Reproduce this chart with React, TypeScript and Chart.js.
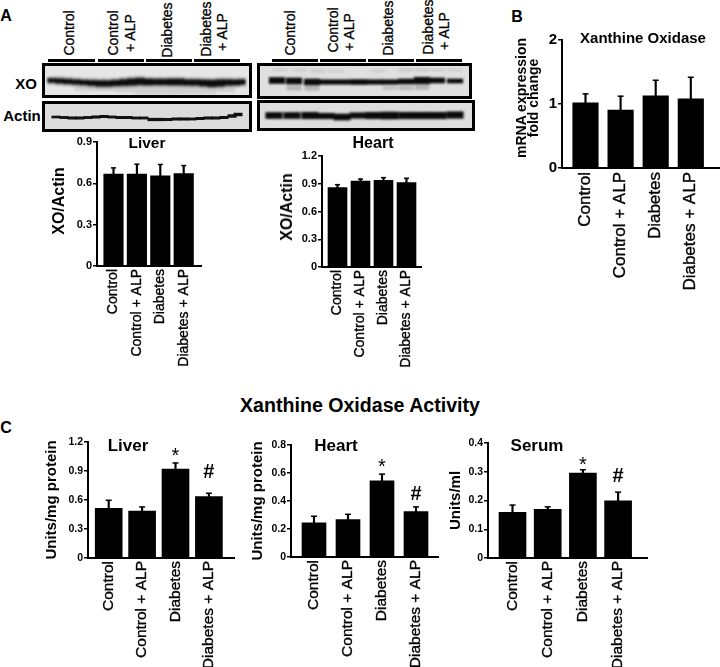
import React, { useEffect, useRef } from "react";
import { Chart, registerables } from "chart.js";

Chart.register(...registerables);

const FONT = '"Liberation Sans", Arial, sans-serif';

// ---- Bar panel data ----
const categories = ["Control", "Control + ALP", "Diabetes", "Diabetes + ALP"];

const liverBlotMeans = [0.667, 0.667, 0.655, 0.671];
const liverBlotTops = [0.712, 0.739, 0.737, 0.729];
const liverBlotTicks = [0, 0.3, 0.6, 0.9];

const heartBlotMeans = [0.858, 0.93, 0.937, 0.912];
const heartBlotTops = [0.89, 0.951, 0.966, 0.959];
const heartBlotTicks = [0, 0.3, 0.6, 0.9, 1.2];

const mrnaMeans = [1.018, 0.904, 1.127, 1.08];
const mrnaTops = [1.158, 1.122, 1.371, 1.418];
const mrnaTicks = [0, 1, 2];

const liverActivityMeans = [0.514, 0.486, 0.92, 0.635];
const liverActivityTops = [0.597, 0.528, 0.983, 0.67];
const liverActivityTicks = [0, 0.3, 0.6, 0.9, 1.2];
const liverActivityMarks = [[2, 1.055, "*"], [3, 0.88, "#"]];

const heartActivityMeans = [0.244, 0.267, 0.544, 0.325];
const heartActivityTops = [0.291, 0.305, 0.592, 0.358];
const heartActivityTicks = [0, 0.2, 0.4, 0.6, 0.8];
const heartActivityMarks = [[2, 0.642, "*"], [3, 0.449, "#"]];

const serumMeans = [0.159, 0.169, 0.295, 0.199];
const serumTops = [0.184, 0.178, 0.307, 0.229];
const serumTicks = [0, 0.1, 0.2, 0.3, 0.4];
const serumMarks = [[2, 0.323, "*"], [3, 0.285, "#"]];

// ---- Blot band data: lane position, band centre, band thickness (gel units) ----
const liverXoLanes = [7, 15, 23, 31, 39, 47, 55, 63, 71, 79, 87, 95, 103, 111, 119, 127, 135, 143, 151, 159, 167, 175, 183, 191, 196];
const liverXoMid = [14.5, 15, 15.5, 16, 16.5, 17, 17.5, 17.5, 17, 16.5, 16, 15.5, 16, 16, 16, 16, 16, 16.5, 16.5, 17, 17.5, 17, 16.5, 16.5, 16];
const liverXoThick = [3.5, 4, 4, 4, 4, 4.5, 5, 5, 5, 5.5, 6, 6, 5.5, 5, 5, 5.5, 5.5, 5, 5, 5.5, 6, 6, 5, 4.5, 4];
const liverXoHalo = [7, 8, 8, 8, 8, 8.5, 9, 9, 9, 9.5, 10, 10, 9.5, 9, 9, 9.5, 9.5, 9, 9, 9.5, 10, 10, 9, 8.5, 8];
const liverXoSmearLanes = [40, 60, 80, 100, 120, 140, 160, 180];
const liverXoSmearMid = [22, 22, 23, 24, 24, 24, 24, 23];
const liverXoSmearThick = [5, 5, 6, 8, 8, 8, 8, 6];

const liverActinLanes = [11, 19, 27, 35, 43, 51, 59, 67, 75, 83, 91, 99, 107, 115, 123, 131, 139, 147, 155, 163, 171, 179, 187, 193];
const liverActinMid = [13, 13.5, 14, 14, 13.5, 13, 12.5, 13, 13.5, 13.5, 14, 14, 15.5, 15.5, 15.5, 15, 15, 15, 14.5, 14, 14, 13.5, 12, 10.5];
const liverActinThick = [2, 2.2, 2.4, 2.4, 2.2, 2.4, 2.4, 2.2, 2.4, 2.4, 2.2, 2.2, 2.6, 2.6, 2.4, 2.4, 2.4, 2.2, 2.4, 2.4, 2.4, 2.4, 2.8, 2.8];

const heartXoLanes = [17, 34, 52, 68, 84, 99, 115, 130, 146, 162, 177, 195];
const heartXoMid = [14.5, 15, 16, 16, 16, 16, 16, 16, 15.5, 14.5, 14.5, 15];
const heartXoThick = [6, 6, 6, 4.5, 4.5, 5, 4.5, 4.5, 5, 6.5, 5, 4];
const heartXoLowerLanes = [34, 52, 130, 146, 162];
const heartXoLowerMid = [22, 22.5, 22, 22, 21];
const heartXoLowerThick = [4, 4, 2, 3, 5];
const heartXoUpperLanes = [20, 40, 58, 76, 118, 146, 162, 178, 195];
const heartXoUpperMid = [4, 4, 5, 5, 5, 4, 4, 4, 4];
const heartXoUpperThick = [2, 2, 3, 2, 2, 3, 3, 2, 2];

const heartActinLanes = [14, 32, 50, 66, 82, 98, 114, 130, 147, 163, 178, 195];
const heartActinMid = [12.5, 12.5, 12.5, 13, 14, 12.5, 12.5, 12.5, 12.5, 12.5, 12.5, 12];
const heartActinThick = [6, 6, 6.5, 5.5, 6, 5.5, 6.5, 7, 6.5, 6.5, 6.5, 6.5];

const groupLabels = [
  { x: 69, y: 33, t: "Control" },
  { x: 113, y: 33, t: "Control" },
  { x: 130, y: 33, t: "+ ALP" },
  { x: 167, y: 29.5, t: "Diabetes" },
  { x: 206, y: 28.5, t: "Diabetes" },
  { x: 222, y: 32, t: "+ ALP" },
  { x: 290, y: 32.5, t: "Control" },
  { x: 333, y: 30, t: "Control" },
  { x: 349, y: 32, t: "+ ALP" },
  { x: 388, y: 27.5, t: "Diabetes" },
  { x: 428, y: 26.5, t: "Diabetes" },
  { x: 444, y: 31, t: "+ ALP" },
];

// ---- Layout ----
const PAGE_W = 720;
const PAGE_H = 667;

function buildBarConfig(p: any) {
  const { means, tops, ticks, marks = [] } = p;
  const pts = means.map((v: number, i: number) => ({ x: i, y: v }));
  const span = p.spacing;
  const xMin = (p.axisX - p.firstBar) / span;
  const xMax = (p.axisEnd - p.firstBar) / span;
  const yMax = ticks[ticks.length - 1];
  const markPlugin = {
    id: "marks",
    afterDatasetsDraw(chart: any) {
      const ctx = chart.ctx;
      ctx.save();
      ctx.fillStyle = "#000";
      ctx.textAlign = "center";
      ctx.textBaseline = "middle";
      marks.forEach(([i, v, s]: any) => {
        ctx.font = s === "*" ? `20px ${FONT}` : `bold 20px ${FONT}`;
        ctx.fillText(s, chart.scales.x.getPixelForValue(i), chart.scales.y.getPixelForValue(v));
      });
      ctx.restore();
    },
  };
  return {
    type: "bar",
    plugins: [markPlugin],
    data: {
      datasets: [
        {
          type: "bar",
          data: pts,
          backgroundColor: "#000",
          barThickness: p.barWidth,
          grouped: false,
          order: 1,
        },
        {
          type: "bar",
          data: means.map((v: number, i: number) => ({ x: i, y: [v, tops[i]] })),
          backgroundColor: "#000",
          barThickness: p.errWidth ?? 1.5,
          grouped: false,
          order: 2,
        },
        {
          type: "line",
          data: tops.map((v: number, i: number) => ({ x: i, y: v })),
          showLine: false,
          pointStyle: "line",
          pointRadius: p.capRadius ?? 2.5,
          pointBorderColor: "#000",
          pointBorderWidth: 1.5,
          order: 3,
        },
      ],
    },
    options: {
      responsive: false,
      animation: false,
      layout: { autoPadding: false, padding: { top: p.padTop, left: 0, right: 0, bottom: 0 } },
      plugins: { legend: { display: false }, tooltip: { enabled: false }, title: { display: false } },
      scales: {
        x: {
          type: "linear",
          offset: false,
          bounds: "data",
          min: xMin,
          max: xMax,
          afterBuildTicks: (s: any) => {
            s.ticks = categories.map((_, i) => ({ value: i }));
          },
          afterFit: (s: any) => {
            s.height = p.xHeight;
            s.paddingLeft = 0;
            s.paddingRight = 0;
          },
          border: { display: false },
          grid: { display: false, drawOnChartArea: false, drawTicks: false },
          ticks: {
            autoSkip: false,
            includeBounds: false,
            minRotation: 90,
            maxRotation: 90,
            padding: p.labelPad,
            color: "#000",
            textStrokeColor: "#000",
            textStrokeWidth: 0.35,
            font: { family: FONT, size: p.catSize },
            callback: (v: number) => categories[v],
          },
        },
        y: {
          type: "linear",
          min: 0,
          max: yMax,
          afterBuildTicks: (s: any) => {
            s.ticks = ticks.map((value: number) => ({ value }));
          },
          afterFit: (s: any) => {
            s.width = p.yWidth;
            s.paddingTop = 0;
            s.paddingBottom = 0;
          },
          border: { display: true, color: "#000", width: 2 },
          grid: { drawOnChartArea: false, color: "#000", lineWidth: 1.5, tickLength: p.tickLen ?? 4 },
          title: {
            display: !!p.yTitle,
            text: p.yTitle,
            color: "#000",
            padding: 0,
            font: { family: FONT, size: p.yTitleSize, weight: "bold", lineHeight: p.yTitleLH ?? 1.2 },
          },
          ticks: {
            padding: 1,
            color: "#000",
            autoSkip: false,
            font: { family: FONT, size: p.tickSize, weight: "bold" },
            callback: (v: number) => String(+v.toFixed(1)),
          },
        },
      },
    },
  };
}

function buildBlotConfig(b: any) {
  return {
    type: "bar",
    data: {
      datasets: b.layers.map((l: any) => ({
        data: l.lanes.map((x: number, i: number) => ({
          x,
          y: [l.mid[i] - l.thick[i] / 2, l.mid[i] + l.thick[i] / 2],
        })),
        backgroundColor: l.color,
        barThickness: l.width,
        grouped: false,
        order: l.order,
      })),
    },
    options: {
      responsive: false,
      animation: false,
      plugins: { legend: { display: false }, tooltip: { enabled: false } },
      layout: { padding: 0 },
      scales: {
        x: { type: "linear", offset: false, bounds: "data", display: false, min: 0, max: b.w },
        y: { type: "linear", display: false, min: 0, max: b.h, reverse: true },
      },
    },
  };
}

const barPanels = [
  { key: "a-liver", means: liverBlotMeans, tops: liverBlotTops, ticks: liverBlotTicks, axisX: 97, axisEnd: 202, yTopPx: 142, y0: 266, firstBar: 113.5, spacing: 23.4, barWidth: 19.5, yWidth: 48, xHeight: 105, padTop: 8, labelPad: 3, catSize: 14, tickSize: 11 },
  { key: "a-heart", means: heartBlotMeans, tops: heartBlotTops, ticks: heartBlotTicks, axisX: 322, axisEnd: 422, yTopPx: 156, y0: 267, firstBar: 337.5, spacing: 23, barWidth: 19, yWidth: 45, xHeight: 105, padTop: 8, labelPad: 3, catSize: 14, tickSize: 11 },
  { key: "b", means: mrnaMeans, tops: mrnaTops, ticks: mrnaTicks, axisX: 562, axisEnd: 720, yTopPx: 40, y0: 168, firstBar: 585.5, spacing: 35.1, barWidth: 25.5, yWidth: 47, xHeight: 125, padTop: 10, labelPad: 4, catSize: 17, tickSize: 15, tickLen: 4, capRadius: 3 },
  { key: "c-liver", means: liverActivityMeans, tops: liverActivityTops, ticks: liverActivityTicks, marks: liverActivityMarks, axisX: 88, axisEnd: 235, yTopPx: 442, y0: 558, firstBar: 108.7, spacing: 33.4, barWidth: 27, yWidth: 45, xHeight: 109, padTop: 8, labelPad: 3, catSize: 15.5, tickSize: 10.5, yTitle: "Units/mg protein", yTitleSize: 15, capRadius: 3 },
  { key: "c-heart", means: heartActivityMeans, tops: heartActivityTops, ticks: heartActivityTicks, marks: heartActivityMarks, axisX: 291, axisEnd: 439, yTopPx: 445, y0: 557, firstBar: 314, spacing: 34, barWidth: 24, yWidth: 42, xHeight: 110, padTop: 8, labelPad: 3, catSize: 15.5, tickSize: 10.5, yTitle: "Units/mg protein", yTitleSize: 15, capRadius: 3 },
  { key: "c-serum", means: serumMeans, tops: serumTops, ticks: serumTicks, marks: serumMarks, axisX: 488, axisEnd: 648, yTopPx: 443, y0: 558, firstBar: 512.5, spacing: 35.2, barWidth: 27, yWidth: 41, xHeight: 109, padTop: 8, labelPad: 3, catSize: 15.5, tickSize: 10.5, yTitle: "Units/ml", yTitleSize: 15, capRadius: 3 },
];

const blots = [
  {
    key: "liver-xo", x: 42, y: 63, w: 204, h: 29, outerW: 210, outerH: 35, bg: "#e6e6e6", blur: 1,
    layers: [
      { lanes: liverXoLanes, mid: liverXoMid, thick: liverXoThick, color: "#0c0c0c", width: 8.6, order: 1 },
      { lanes: liverXoLanes, mid: liverXoMid, thick: liverXoHalo, color: "#9a9a9a", width: 8.6, order: 2 },
      { lanes: liverXoSmearLanes, mid: liverXoSmearMid, thick: liverXoSmearThick, color: "#cfcfcf", width: 20, order: 3 },
    ],
  },
  {
    key: "liver-actin", x: 42, y: 101, w: 204, h: 25, outerW: 210, outerH: 31, bg: "#dcdcdc", blur: 0.5,
    layers: [{ lanes: liverActinLanes, mid: liverActinMid, thick: liverActinThick, color: "#111", width: 8.4, order: 1 }],
  },
  {
    key: "heart-xo", x: 257, y: 63, w: 209, h: 30, outerW: 215, outerH: 36, bg: "#e0e0e0", blur: 1.1,
    layers: [
      { lanes: heartXoLanes, mid: heartXoMid, thick: heartXoThick, color: "#0a0a0a", width: 15.5, order: 1 },
      { lanes: heartXoLowerLanes, mid: heartXoLowerMid, thick: heartXoLowerThick, color: "#b4b4b4", width: 14, order: 2 },
      { lanes: heartXoUpperLanes, mid: heartXoUpperMid, thick: heartXoUpperThick, color: "#cccccc", width: 14, order: 3 },
    ],
  },
  {
    key: "heart-actin", x: 257, y: 100, w: 212, h: 25, outerW: 218, outerH: 31, bg: "#dedede", blur: 1.1,
    layers: [{ lanes: heartActinLanes, mid: heartActinMid, thick: heartActinThick, color: "#0a0a0a", width: 16.5, order: 1 }],
  },
];

const groupBars = [
  [48, 95], [98, 144], [146, 192], [194, 240],
  [272, 318], [320, 366], [368, 414], [416, 462],
];

function ChartBox({ left, top, width, height, config, style }: any) {
  const ref = useRef<HTMLCanvasElement>(null);
  useEffect(() => {
    const chart = new Chart(ref.current as HTMLCanvasElement, config);
    return () => chart.destroy();
  }, []);
  return (
    <canvas
      ref={ref}
      width={width}
      height={height}
      style={{ position: "absolute", left, top, width, height, display: "block", ...style }}
    />
  );
}

function Text({ x, y, size, bold, rotate, children }: any) {
  return (
    <div
      style={{
        position: "absolute",
        left: x,
        top: y,
        transform: `translate(-50%, -50%)${rotate ? " rotate(-90deg)" : ""}`,
        fontFamily: FONT,
        fontSize: size,
        fontWeight: bold ? "bold" : "normal",
        WebkitTextStroke: bold ? undefined : "0.3px #000",
        lineHeight: 1,
        whiteSpace: "nowrap",
        color: "#000",
      }}
    >
      {children}
    </div>
  );
}

export default function App() {
  return (
    <div style={{ position: "relative", width: PAGE_W, height: PAGE_H, overflow: "hidden", background: "#fff", filter: "blur(0.35px)" }}>
      <style>{"html,body{margin:0;padding:0;background:#fff}"}</style>

      {groupBars.map(([a, b]) => (
        <div key={a} style={{ position: "absolute", left: a, top: 59, width: b - a, height: 3, background: "#000" }} />
      ))}

      {groupLabels.map((l) => (
        <Text key={`${l.x}`} x={l.x} y={l.y} size={14} rotate>
          {l.t}
        </Text>
      ))}

      {blots.map((b) => (
        <div
          key={b.key}
          style={{ position: "absolute", left: b.x, top: b.y, width: b.outerW, height: b.outerH, boxSizing: "border-box", border: "3px solid #000", background: b.bg, overflow: "hidden" }}
        >
          <ChartBox left={0} top={0} width={b.w} height={b.h} config={buildBlotConfig(b)} style={{ filter: `blur(${b.blur}px)` }} />
        </div>
      ))}

      {barPanels.map((p) => {
        const left = p.axisX - p.yWidth;
        const top = p.yTopPx - p.padTop;
        const height = Math.min(p.y0 + p.xHeight, PAGE_H) - top;
        return <ChartBox key={p.key} left={left} top={top} width={p.axisEnd - left} height={height} config={buildBarConfig(p)} />;
      })}

      {barPanels.map((p) => (
        <div key={`${p.key}-base`} style={{ position: "absolute", left: p.axisX - 1, top: p.y0 - 1, width: p.axisEnd - p.axisX + 1, height: 2, background: "#000" }} />
      ))}

      <Text x={6} y={16} size={16} bold>A</Text>
      <Text x={517} y={17} size={16} bold>B</Text>
      <Text x={6} y={428} size={16} bold>C</Text>
      <Text x={26} y={83} size={15} bold>XO</Text>
      <Text x={22} y={115} size={15} bold>Actin</Text>

      <Text x={59} y={201} size={16} bold rotate>XO/Actin</Text>
      <Text x={287} y={207} size={16} bold rotate>XO/Actin</Text>
      <Text x={521} y={98} size={14} bold rotate>mRNA expression</Text>
      <Text x={533} y={98} size={14} bold rotate>fold change</Text>

      <Text x={147} y={143} size={15.5} bold>Liver</Text>
      <Text x={373} y={143} size={16} bold>Heart</Text>
      <Text x={643} y={37} size={15} bold>Xanthine Oxidase</Text>
      <Text x={360} y={406} size={19.6} bold>Xanthine Oxidase Activity</Text>
      <Text x={128} y={445} size={17} bold>Liver</Text>
      <Text x={336} y={445} size={17} bold>Heart</Text>
      <Text x={537} y={445} size={17} bold>Serum</Text>
    </div>
  );
}
